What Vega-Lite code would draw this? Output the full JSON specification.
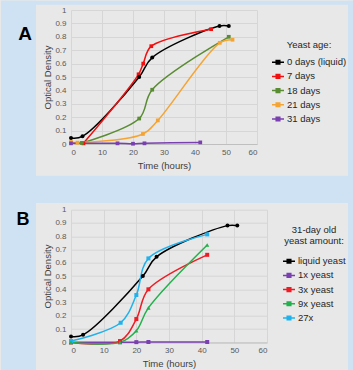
{
  "$schema": "https://vega.github.io/schema/vega-lite/v6.json",
  "background": "#e8e8e8",
  "padding": 0,
  "bounds": "flush",
  "spacing": 65.7,
  "resolve": {
    "scale": {"color": "independent", "x": "independent", "y": "independent"},
    "legend": {"color": "independent"}
  },
  "config": {
    "font": "Liberation Sans",
    "view": {"stroke": null},
    "axis": {
      "labelFont": "Liberation Sans", "labelFontSize": 8, "labelColor": "#595959",
      "titleFont": "Liberation Sans", "titleFontSize": 9.5, "titleColor": "#404040", "titleFontWeight": "normal",
      "gridColor": "#d6d6d6", "gridWidth": 1, "ticks": false, "domain": false
    },
    "legend": {
      "labelFont": "Liberation Sans", "labelFontSize": 9.5, "labelColor": "#262626",
      "titleFont": "Liberation Sans", "titleFontSize": 9.5, "titleColor": "#262626", "titleFontWeight": "normal",
      "padding": 0
    }
  },
  "datasets": {
    "a": [
      {"series": "0 days (liquid)", "t": 0, "od": 0.045},
      {"series": "0 days (liquid)", "t": 3.7, "od": 0.057},
      {"series": "0 days (liquid)", "t": 22, "od": 0.5},
      {"series": "0 days (liquid)", "t": 26.2, "od": 0.645},
      {"series": "0 days (liquid)", "t": 47.9, "od": 0.88},
      {"series": "0 days (liquid)", "t": 50.9, "od": 0.88},
      {"series": "7 days", "t": 4, "od": 0.005},
      {"series": "7 days", "t": 21.8, "od": 0.52},
      {"series": "7 days", "t": 23.3, "od": 0.6},
      {"series": "7 days", "t": 25.9, "od": 0.73},
      {"series": "7 days", "t": 45.2, "od": 0.857},
      {"series": "18 days", "t": 3.5, "od": 0.008},
      {"series": "18 days", "t": 22, "od": 0.19},
      {"series": "18 days", "t": 26.2, "od": 0.405},
      {"series": "18 days", "t": 50.9, "od": 0.8},
      {"series": "21 days", "t": 0, "od": 0.015},
      {"series": "21 days", "t": 2.1, "od": 0.01},
      {"series": "21 days", "t": 23.2, "od": 0.075},
      {"series": "21 days", "t": 28, "od": 0.176},
      {"series": "21 days", "t": 48, "od": 0.755},
      {"series": "21 days", "t": 52.1, "od": 0.778},
      {"series": "31 days", "t": 0, "od": 0.005},
      {"series": "31 days", "t": 15, "od": 0.005},
      {"series": "31 days", "t": 20, "od": 0.002},
      {"series": "31 days", "t": 23.7, "od": 0.005},
      {"series": "31 days", "t": 41.7, "od": 0.012}
    ],
    "b": [
      {"series": "liquid yeast", "t": 0, "od": 0.045},
      {"series": "liquid yeast", "t": 3.7, "od": 0.057},
      {"series": "liquid yeast", "t": 22, "od": 0.5},
      {"series": "liquid yeast", "t": 26.2, "od": 0.645},
      {"series": "liquid yeast", "t": 47.9, "od": 0.88},
      {"series": "liquid yeast", "t": 50.9, "od": 0.88},
      {"series": "1x yeast", "t": 0, "od": 0.002},
      {"series": "1x yeast", "t": 15, "od": 0.002},
      {"series": "1x yeast", "t": 20, "od": 0.002},
      {"series": "1x yeast", "t": 23.7, "od": 0.003},
      {"series": "1x yeast", "t": 41.7, "od": 0.003},
      {"series": "3x yeast", "t": 0, "od": 0.0},
      {"series": "3x yeast", "t": 15, "od": 0.01},
      {"series": "3x yeast", "t": 20, "od": 0.176},
      {"series": "3x yeast", "t": 23.7, "od": 0.4},
      {"series": "3x yeast", "t": 41.7, "od": 0.66},
      {"series": "9x yeast", "t": 0, "od": 0.0},
      {"series": "9x yeast", "t": 15, "od": 0.0},
      {"series": "9x yeast", "t": 20, "od": 0.088},
      {"series": "9x yeast", "t": 23.7, "od": 0.26},
      {"series": "9x yeast", "t": 41.7, "od": 0.734},
      {"series": "27x", "t": 0, "od": 0.01},
      {"series": "27x", "t": 15.2, "od": 0.148},
      {"series": "27x", "t": 20, "od": 0.357},
      {"series": "27x", "t": 23.7, "od": 0.633},
      {"series": "27x", "t": 41.7, "od": 0.814}
    ]
  },
  "vconcat": [
    {
      "width": 186,
      "height": 134,
      "data": {"name": "a"},
      "encoding": {
        "x": {"field": "t", "type": "quantitative", "scale": {"domain": [0, 60], "nice": false},
              "axis": {"title": "Time (hours)", "values": [0, 10, 20, 30, 40, 50, 60], "labelPadding": 4, "titlePadding": 4, "domain": true, "domainColor": "#bfbfbf"}},
        "y": {"field": "od", "type": "quantitative", "scale": {"domain": [0, 1], "nice": false},
              "axis": {"title": "Optical Density", "values": [0, 0.1, 0.2, 0.3, 0.4, 0.5, 0.6, 0.7, 0.8, 0.9, 1], "format": ".1~f", "labelPadding": 5, "titlePadding": 2}}
      },
      "layer": [
        {"transform": [{"filter": "datum.t === 0 && datum.series === '0 days (liquid)'"}], "mark": {"type": "rect", "fill": "#cfe2f3"}, "encoding": {"x": {"datum": -22.58}, "x2": {"datum": -11.29}, "y": {"datum": 1.0694}, "y2": {"datum": -0.4403}}},
        {"transform": [{"filter": "datum.t === 0 && datum.series === '0 days (liquid)'"}], "mark": {"type": "rect", "fill": "#cfe2f3"}, "encoding": {"x": {"datum": -22.58}, "x2": {"datum": 91.29}, "y": {"datum": 1.0694}, "y2": {"datum": 1.0396}}},
        {"transform": [{"filter": "datum.t === 0 && datum.series === '0 days (liquid)'"}], "mark": {"type": "rect", "fill": "#cfe2f3"}, "encoding": {"x": {"datum": 89.35}, "x2": {"datum": 91.29}, "y": {"datum": 1.0694}, "y2": {"datum": -0.4403}}},
        {"transform": [{"filter": "datum.t === 0 && datum.series === '0 days (liquid)'"}], "mark": {"type": "rect", "fill": "#cfe2f3"}, "encoding": {"x": {"datum": -22.58}, "x2": {"datum": 91.29}, "y": {"datum": -0.2366}, "y2": {"datum": -0.4403}}},
        {"transform": [{"filter": "datum.t === 0 && datum.series === '0 days (liquid)'"}], "mark": {"type": "text", "text": "A", "font": "Liberation Sans", "fontSize": 19, "fontWeight": "bold", "align": "center", "baseline": "middle", "fill": "#000000"},
         "encoding": {"x": {"datum": -14.8}, "y": {"datum": 0.82}}},
        {"mark": {"type": "line", "interpolate": "catmull-rom", "strokeWidth": 1.5},
         "encoding": {
           "color": {"field": "series", "type": "nominal",
             "scale": {"domain": ["0 days (liquid)", "7 days", "18 days", "21 days", "31 days"], "range": ["#000000", "#f01010", "#5a8c33", "#f5a431", "#7a3fb0"]},
             "legend": {"title": "Yeast age:", "orient": "none", "legendX": 200, "legendY": 30, "titleAnchor": "middle", "titlePadding": 5.7,
                        "symbolType": "M-1,0H1M-0.3,-0.3H0.3V0.3H-0.3Z", "symbolSize": 144, "symbolStrokeWidth": 1.5, "labelOffset": 2, "rowPadding": 2.2}}
         }},
        {"transform": [{"filter": "datum.series !== '0 days (liquid)'"}],
         "mark": {"type": "point", "shape": "square", "filled": true, "size": 14, "opacity": 1},
         "encoding": {"color": {"field": "series", "type": "nominal", "legend": null}}},
        {"transform": [{"filter": "datum.series === '0 days (liquid)'"}],
         "mark": {"type": "point", "shape": "circle", "filled": true, "size": 16, "opacity": 1},
         "encoding": {"color": {"field": "series", "type": "nominal", "legend": null}}}
      ]
    },
    {
      "width": 196,
      "height": 132.7,
      "data": {"name": "b"},
      "encoding": {
        "x": {"field": "t", "type": "quantitative", "scale": {"domain": [0, 60], "nice": false},
              "axis": {"title": "Time (hours)", "values": [0, 10, 20, 30, 40, 50, 60], "labelPadding": 4, "titlePadding": 4, "domain": true, "domainColor": "#bfbfbf"}},
        "y": {"field": "od", "type": "quantitative", "scale": {"domain": [0, 1], "nice": false},
              "axis": {"title": "Optical Density", "values": [0, 0.1, 0.2, 0.3, 0.4, 0.5, 0.6, 0.7, 0.8, 0.9, 1], "format": ".1~f", "labelPadding": 5, "titlePadding": 2}}
      },
      "layer": [
        {"transform": [{"filter": "datum.t === 0 && datum.series === 'liquid yeast'"}], "mark": {"type": "rect", "fill": "#cfe2f3"}, "encoding": {"x": {"datum": -21.43}, "x2": {"datum": -10.71}, "y": {"datum": 1.257}, "y2": {"datum": -0.289}}},
        {"transform": [{"filter": "datum.t === 0 && datum.series === 'liquid yeast'"}], "mark": {"type": "rect", "fill": "#cfe2f3"}, "encoding": {"x": {"datum": 84.8}, "x2": {"datum": 86.63}, "y": {"datum": 1.257}, "y2": {"datum": -0.289}}},
        {"transform": [{"filter": "datum.t === 0 && datum.series === 'liquid yeast'"}], "mark": {"type": "text", "text": "B", "font": "Liberation Sans", "fontSize": 18, "fontWeight": "bold", "align": "center", "baseline": "middle", "fill": "#000000"},
         "encoding": {"x": {"datum": -14.7}, "y": {"datum": 0.925}}},
        {"mark": {"type": "line", "interpolate": "catmull-rom", "strokeWidth": 1.5},
         "encoding": {
           "color": {"field": "series", "type": "nominal",
             "scale": {"domain": ["liquid yeast", "1x yeast", "3x yeast", "9x yeast", "27x"], "range": ["#000000", "#7a3fb0", "#ee1c24", "#22b14c", "#1fb2ec"]},
             "legend": {"title": ["31-day old", "yeast amount:"], "orient": "none", "legendX": 211, "legendY": 15.3, "titleAnchor": "middle", "titleAlign": "center", "titleLineHeight": 11.4, "titlePadding": 8.3,
                        "symbolType": "M-1,0H1M-0.3,-0.3H0.3V0.3H-0.3Z", "symbolSize": 144, "symbolStrokeWidth": 1.5, "labelOffset": 2, "rowPadding": 2.2}}
         }},
        {"transform": [{"filter": "datum.series !== 'liquid yeast' && datum.series !== '9x yeast'"}],
         "mark": {"type": "point", "shape": "square", "filled": true, "size": 16, "opacity": 1},
         "encoding": {"color": {"field": "series", "type": "nominal", "legend": null}}},
        {"transform": [{"filter": "datum.series === 'liquid yeast'"}],
         "mark": {"type": "point", "shape": "circle", "filled": true, "size": 16, "opacity": 1},
         "encoding": {"color": {"field": "series", "type": "nominal", "legend": null}}},
        {"transform": [{"filter": "datum.series === '9x yeast'"}],
         "mark": {"type": "point", "shape": "triangle-up", "filled": true, "size": 18, "opacity": 1},
         "encoding": {"color": {"field": "series", "type": "nominal", "legend": null}}}
      ]
    }
  ]
}
